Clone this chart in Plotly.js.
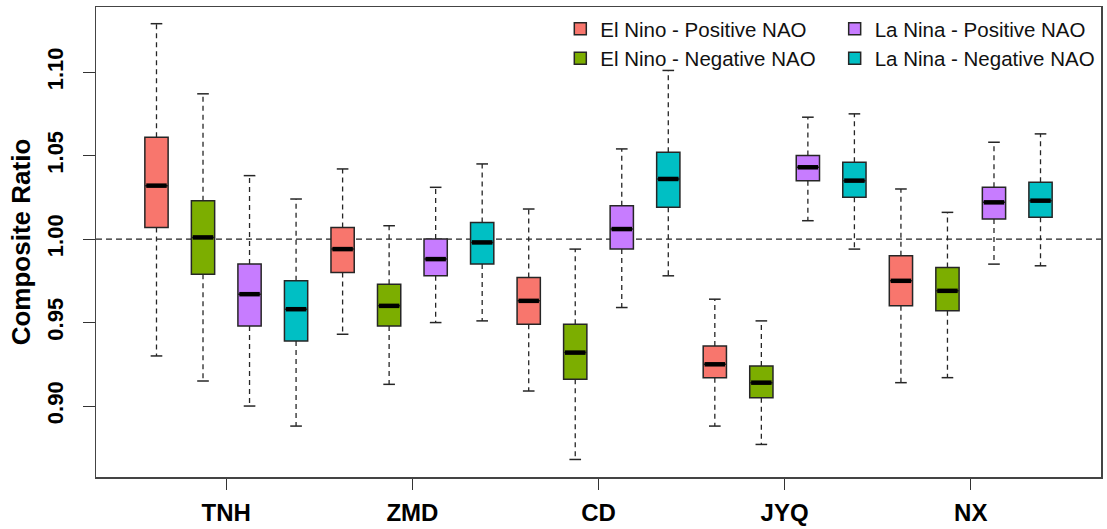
<!DOCTYPE html>
<html>
<head>
<meta charset="utf-8">
<script src="https://cdn.plot.ly/plotly-3.0.1.min.js"></script>
<style>html,body{margin:0;padding:0;background:#fff;}#chart{width:1107px;height:529px;}</style>
</head>
<body>
<div id="chart"></div>
<script>
// Stations (groups) and series
var stations = ["TNH", "ZMD", "CD", "JYQ", "NX"];
var seriesNames = ["El Nino - Positive NAO", "El Nino - Negative NAO", "La Nina - Positive NAO", "La Nina - Negative NAO"];
var seriesColors = ["#F8766D", "#7CAE00", "#C77CFF", "#00BFC4"];

// Box statistics per series, one value per station (TNH, ZMD, CD, JYQ, NX)
var elNinoPosLower  = [0.930, 0.943, 0.909, 0.888, 0.914];
var elNinoPosQ1     = [1.007, 0.980, 0.949, 0.917, 0.960];
var elNinoPosMedian = [1.032, 0.994, 0.963, 0.925, 0.975];
var elNinoPosQ3     = [1.061, 1.007, 0.977, 0.936, 0.990];
var elNinoPosUpper  = [1.129, 1.042, 1.018, 0.964, 1.030];

var elNinoNegLower  = [0.915, 0.913, 0.868, 0.877, 0.917];
var elNinoNegQ1     = [0.979, 0.948, 0.916, 0.905, 0.957];
var elNinoNegMedian = [1.001, 0.960, 0.932, 0.914, 0.969];
var elNinoNegQ3     = [1.023, 0.973, 0.949, 0.924, 0.983];
var elNinoNegUpper  = [1.087, 1.008, 0.994, 0.951, 1.016];

var laNinaPosLower  = [0.900, 0.950, 0.959, 1.011, 0.985];
var laNinaPosQ1     = [0.948, 0.978, 0.994, 1.035, 1.012];
var laNinaPosMedian = [0.967, 0.988, 1.006, 1.043, 1.022];
var laNinaPosQ3     = [0.985, 1.000, 1.020, 1.050, 1.031];
var laNinaPosUpper  = [1.038, 1.031, 1.054, 1.073, 1.058];

var laNinaNegLower  = [0.888, 0.951, 0.978, 0.994, 0.984];
var laNinaNegQ1     = [0.939, 0.985, 1.019, 1.025, 1.013];
var laNinaNegMedian = [0.958, 0.998, 1.036, 1.035, 1.023];
var laNinaNegQ3     = [0.975, 1.010, 1.052, 1.046, 1.034];
var laNinaNegUpper  = [1.024, 1.045, 1.101, 1.075, 1.063];

var yTickVals = [0.90, 0.95, 1.00, 1.05, 1.10];
var yTickText = ["0.90", "0.95", "1.00", "1.05", "1.10"];
var refLevel = 1.00;

var stats = [
  {lo: elNinoPosLower, q1: elNinoPosQ1, med: elNinoPosMedian, q3: elNinoPosQ3, hi: elNinoPosUpper},
  {lo: elNinoNegLower, q1: elNinoNegQ1, med: elNinoNegMedian, q3: elNinoNegQ3, hi: elNinoNegUpper},
  {lo: laNinaPosLower, q1: laNinaPosQ1, med: laNinaPosMedian, q3: laNinaPosQ3, hi: laNinaPosUpper},
  {lo: laNinaNegLower, q1: laNinaNegQ1, med: laNinaNegMedian, q3: laNinaNegQ3, hi: laNinaNegUpper}
];

var nSeries = seriesNames.length;
var boxW = 0.5;
var capHalf = boxW / 4;
var edge = "#262626";
var fontFam = "Liberation Sans, Arial, sans-serif";

var boxTraces = [], whiskerTraces = [], capTraces = [], medianTraces = [];
stats.forEach(function (s, k) {
  var xs = stations.map(function (_, g) { return g * nSeries + k + 1; });
  boxTraces.push({
    type: "box",
    name: seriesNames[k],
    x: xs,
    q1: s.q1, median: s.med, q3: s.q3,
    lowerfence: s.q1, upperfence: s.q3,
    width: boxW,
    fillcolor: seriesColors[k],
    line: {color: edge, width: 1.5},
    whiskerwidth: 0,
    hoverinfo: "skip",
    legend: k < 2 ? "legend" : "legend2",
    legendrank: k
  });
  var wx = [], wy = [], cx = [], cy = [], mx = [], my = [];
  xs.forEach(function (x, i) {
    wx.push(x, x, null, x, x, null);
    wy.push(s.q3[i], s.hi[i], null, s.q1[i], s.lo[i], null);
    cx.push(x - capHalf, x + capHalf, null, x - capHalf, x + capHalf, null);
    cy.push(s.hi[i], s.hi[i], null, s.lo[i], s.lo[i], null);
    mx.push(x - boxW / 2 + 0.03, x + boxW / 2 - 0.03, null);
    my.push(s.med[i], s.med[i], null);
  });
  whiskerTraces.push({type: "scatter", mode: "lines", x: wx, y: wy, showlegend: false, hoverinfo: "skip",
    line: {color: edge, width: 1.3, dash: "5px,4px"}, connectgaps: false});
  capTraces.push({type: "scatter", mode: "lines", x: cx, y: cy, showlegend: false, hoverinfo: "skip",
    line: {color: edge, width: 1.5}, connectgaps: false});
  medianTraces.push({type: "scatter", mode: "lines", x: mx, y: my, showlegend: false, hoverinfo: "skip",
    line: {color: "#000", width: 4.5}, connectgaps: false});
});

var traces = whiskerTraces.concat(capTraces, boxTraces, medianTraces);

var groupTicks = stations.map(function (_, g) { return g * nSeries + (nSeries + 1) / 2; });

var layout = {
  width: 1107, height: 529,
  margin: {l: 96, r: 6, t: 7, b: 52},
  paper_bgcolor: "#fff", plot_bgcolor: "#fff",
  font: {family: fontFam, color: "#000"},
  showlegend: true,
  xaxis: {
    range: [-0.3, nSeries * stations.length + 1.3],
    tickvals: groupTicks, ticktext: stations,
    ticks: "outside", ticklen: 11, tickwidth: 1, tickcolor: "#333",
    tickfont: {size: 24, family: fontFam, weight: "bold"},
    ticklabelstandoff: 3,
    showgrid: false, zeroline: false,
    showline: true, mirror: true, linecolor: "#444", linewidth: 1.5,
    fixedrange: true
  },
  yaxis: {
    range: [0.8575, 1.139],
    tickvals: yTickVals, ticktext: yTickText,
    tickangle: -90,
    ticks: "outside", ticklen: 12, tickwidth: 1, tickcolor: "#333",
    tickfont: {size: 22, family: fontFam, weight: "bold"},
    ticklabelstandoff: 11,
    showgrid: false, zeroline: false,
    showline: true, mirror: true, linecolor: "#444", linewidth: 1.5,
    title: {text: "Composite Ratio", font: {size: 26, family: fontFam, weight: "bold"}, standoff: 4},
    fixedrange: true
  },
  shapes: [{
    type: "line", xref: "paper", yref: "y", x0: 0, x1: 1, y0: refLevel, y1: refLevel,
    line: {color: "#222", width: 1.3, dash: "6px,4px"}, layer: "below"
  }],
  legend: {
    x: 0.462, y: 0.996, xanchor: "left", yanchor: "top",
    bgcolor: "rgba(0,0,0,0)", borderwidth: 0,
    font: {size: 20.5, family: fontFam, color: "#111"},
    tracegroupgap: 0, itemwidth: 30
  },
  legend2: {
    x: 0.735, y: 0.996, xanchor: "left", yanchor: "top",
    bgcolor: "rgba(0,0,0,0)", borderwidth: 0,
    font: {size: 20.5, family: fontFam, color: "#111"},
    tracegroupgap: 0, itemwidth: 30
  }
};

Plotly.newPlot("chart", traces, layout, {displayModeBar: false, staticPlot: true});
</script>
</body>
</html>
